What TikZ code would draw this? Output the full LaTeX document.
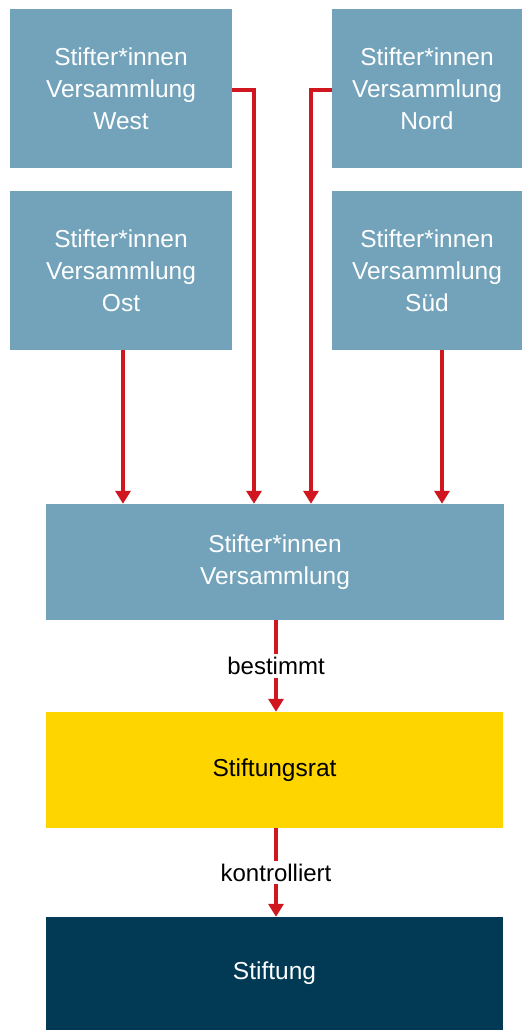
\documentclass[tikz,border=0pt]{standalone}
\usepackage{fontspec}
\setmainfont{Liberation Sans}
\usetikzlibrary{arrows.meta}
\definecolor{boxblue}{HTML}{72A3BB}
\definecolor{ratyellow}{HTML}{FFD500}
\definecolor{navy}{HTML}{023A55}
\definecolor{linered}{HTML}{D0161E}
\tikzset{
  gremium/.style={fill=boxblue, text=white, align=center, inner sep=0pt,
    font=\fontsize{24.5}{32}\selectfont},
  flow/.style={draw=linered, line width=3.2pt,
    -{Triangle[length=13pt,width=15pt]}},
  tag/.style={fill=white, font=\fontsize{24}{28}\selectfont, inner sep=3pt}
}
\begin{document}
\begin{tikzpicture}[x=1pt,y=-1pt]
  \useasboundingbox (0,0) rectangle (522,1030);

  % regional assemblies
  \node[gremium, minimum width=222pt, minimum height=159pt] (west) at (121,88.5)
    {Stifter*innen\\Versammlung\\West};
  \node[gremium, minimum width=190pt, minimum height=159pt] (nord) at (427,88.5)
    {Stifter*innen\\Versammlung\\Nord};
  \node[gremium, minimum width=222pt, minimum height=159pt] (ost) at (121,270.5)
    {Stifter*innen\\Versammlung\\Ost};
  \node[gremium, minimum width=190pt, minimum height=159pt] (sued) at (427,270.5)
    {Stifter*innen\\Versammlung\\Süd};

  % central bodies
  \node[gremium, minimum width=458pt, minimum height=116pt] (vers) at (275,562)
    {Stifter*innen\\Versammlung};
  \node[gremium, fill=ratyellow, text=black, minimum width=457pt, minimum height=116pt]
    (rat) at (274.5,770) {Stiftungsrat};
  \node[gremium, fill=navy, minimum width=457pt, minimum height=113pt]
    (stiftung) at (274.5,973.5) {Stiftung};

  % connectors
  \coordinate (westdown) at (254,90);
  \coordinate (norddown) at (311,90);
  \draw[flow] (ost.south -| 123,0) -- (vers.north -| 123,0);
  \draw[flow] (west.east |- westdown) -- (westdown) -- (vers.north -| westdown);
  \draw[flow] (nord.west |- norddown) -- (norddown) -- (vers.north -| norddown);
  \draw[flow] (sued.south -| 442,0) -- (vers.north -| 442,0);
  \draw[flow] (vers.south -| 276,0) -- node[tag] {bestimmt} (rat.north -| 276,0);
  \draw[flow] (rat.south -| 276,0) -- node[tag] {kontrolliert} (stiftung.north -| 276,0);
\end{tikzpicture}
\end{document}
